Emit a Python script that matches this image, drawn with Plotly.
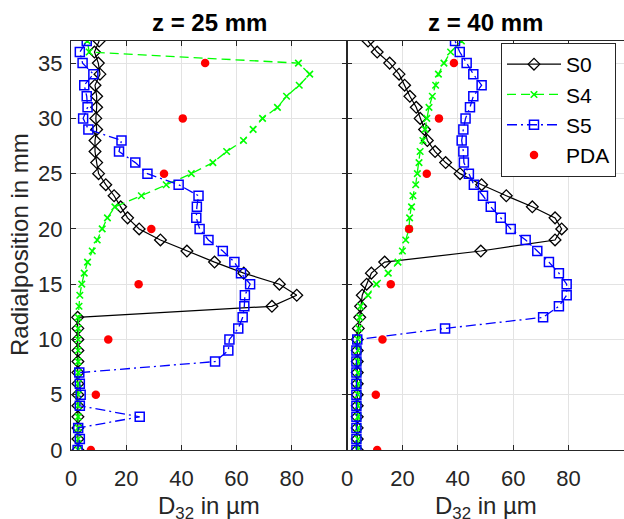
import plotly.graph_objects as go

# Radial positions (mm)
radial_pos = [0, 1, 2, 3, 4, 5, 6, 7, 8, 9, 10, 11, 12, 13, 14, 15, 16, 17, 18, 19,
              20, 21, 22, 23, 24, 25, 26, 27, 28, 29, 30, 31, 32, 33, 34, 35, 36, 37]
pda_pos = [0, 5, 10, 15, 20, 25, 30, 35]

# z = 25 mm
z25_S0 = [2.5, 2.5, 2.5, 2.5, 2.5, 2.5, 2.5, 2.5, 2.5, 2.5, 2.5, 2.5, 2.4, 72.8, 81.8, 75.5,
          62.6, 52.0, 42.0, 32.4, 24.7, 20.5, 18.0, 15.6, 12.6, 10.0, 9.3, 8.7, 8.7, 9.3,
          9.0, 9.3, 9.3, 8.7, 10.5, 9.9, 8.5, 10.2]
z25_S4 = [2.6, 2.6, 2.6, 2.6, 2.6, 2.6, 2.6, 2.6, 2.6, 2.6, 2.6, 2.6, 2.6, 2.9, 3.2, 3.9,
          4.8, 6.0, 7.7, 9.5, 11.3, 13.2, 15.9, 25.5, 34.5, 43.6, 51.4, 56.4, 62.5, 66.0,
          69.4, 74.8, 78.1, 82.7, 86.5, 82.4, 6.6, 5.9]
z25_S5 = [2.4, 3.2, 2.6, 24.9, 3.2, 3.5, 3.2, 3.0, 52.2, 57.0, 57.4, 60.6, 62.2, 62.8, 63.0,
          64.9, 61.6, 59.2, 55.0, 49.8, 46.6, 45.4, 45.6, 46.2, 39.0, 27.7, 23.3, 17.4,
          18.3, 6.3, 4.4, 6.0, 5.7, 4.8, 8.1, 4.2, 3.2, 5.7]
z25_PDA = [7.2, 9.0, 13.5, 24.5, 29.1, 33.7, 40.5, 48.6]

# z = 40 mm
z40_S0 = [3.7, 3.7, 3.7, 3.7, 3.7, 3.7, 3.7, 3.7, 3.7, 3.7, 3.7, 4.1, 4.6, 4.9, 5.5, 7.1,
          8.8, 13.6, 48.3, 75.1, 77.5, 75.1, 66.9, 57.5, 48.6, 40.8, 35.6, 31.8, 29.0,
          28.0, 26.4, 25.0, 22.7, 20.8, 18.8, 15.4, 10.9, 7.6]
z40_S4 = [4.0, 4.0, 4.0, 4.0, 4.0, 4.0, 4.0, 4.0, 4.0, 4.0, 4.0, 4.3, 4.6, 4.9, 7.6, 10.6,
          14.9, 18.4, 20.0, 21.2, 22.4, 22.6, 23.3, 23.8, 24.8, 25.4, 26.0, 26.4, 27.4,
          28.2, 28.8, 29.6, 30.8, 32.0, 33.0, 35.0, 37.4, 41.3]
z40_S5 = [3.4, 3.4, 3.4, 3.4, 3.4, 3.4, 3.4, 3.4, 3.4, 3.4, 3.7, 35.4, 70.8, 76.5, 79.3,
          79.3, 76.5, 72.9, 68.7, 64.5, 59.1, 55.5, 51.9, 49.1, 45.8, 44.0, 42.2, 42.0,
          41.4, 42.0, 42.8, 44.4, 45.6, 48.6, 45.6, 43.2, 40.7, 39.0]
z40_PDA = [10.9, 10.4, 12.8, 15.8, 22.4, 28.8, 33.2, 38.6]

titles = ["z = 25 mm", "z = 40 mm"]
x_ticks = [0, 20, 40, 60, 80]
y_ticks = [0, 5, 10, 15, 20, 25, 30, 35]

FONT = "Liberation Sans, Arial, Helvetica, sans-serif"
AX = "#262626"
GRID = "#e3e3e3"

fig = go.Figure()

panels = [
    ("x", "y", z25_S0, z25_S4, z25_S5, z25_PDA, True),
    ("x2", "y2", z40_S0, z40_S4, z40_S5, z40_PDA, False),
]
for xa, ya, s0, s4, s5, pda, show in panels:
    fig.add_trace(go.Scatter(
        x=s0, y=radial_pos, xaxis=xa, yaxis=ya, name="S0", mode="lines+markers",
        line=dict(color="black", width=1.2),
        marker=dict(symbol="diamond-open", size=9, color="black", line=dict(width=1.3)),
        showlegend=show, legendrank=1))
    fig.add_trace(go.Scatter(
        x=s4, y=radial_pos, xaxis=xa, yaxis=ya, name="S4", mode="lines+markers",
        line=dict(color="#00ff00", width=1.3, dash="9px,5px"),
        marker=dict(symbol="x-thin-open", size=6.5, color="#00ff00", line=dict(width=1.6, color="#00ff00")),
        showlegend=show, legendrank=2))
    fig.add_trace(go.Scatter(
        x=s5, y=radial_pos, xaxis=xa, yaxis=ya, name="S5", mode="lines+markers",
        line=dict(color="#0000ff", width=1.3, dash="10px,4px,2px,4px"),
        marker=dict(symbol="square-open", size=9, color="#0000ff", line=dict(width=1.5)),
        showlegend=show, legendrank=3))
    fig.add_trace(go.Scatter(
        x=pda, y=pda_pos, xaxis=xa, yaxis=ya, name="PDA", mode="markers",
        marker=dict(symbol="circle", size=8.5, color="#ff0000"),
        showlegend=show, legendrank=4))

W, H = 624, 519
ML, MR, MT, MB = 71, 0, 41, 69
plot_w = W - ML - MR
plot_h = H - MT - MB
split = 276 / plot_w


def px_x(px):
    return (px - ML) / plot_w


def px_y(py):
    return (H - MB - py) / plot_h


axis_common = dict(
    showline=True, linecolor=AX, linewidth=1, ticks="inside", ticklen=5,
    tickcolor=AX, tickwidth=1, showgrid=True, gridcolor=GRID, gridwidth=1,
    zeroline=False, tickfont=dict(family=FONT, size=22, color=AX),
)

fig.update_layout(
    width=W, height=H,
    margin=dict(l=ML, r=MR, t=MT, b=MB),
    paper_bgcolor="white", plot_bgcolor="white",
    font=dict(family=FONT, color=AX),
    xaxis=dict(domain=[0, split], range=[0, 100], tickvals=x_ticks, mirror="ticks",
               anchor="y", ticklabelstandoff=9, **axis_common),
    xaxis2=dict(domain=[split, 1], range=[0, 100], tickvals=x_ticks, mirror="ticks",
                anchor="y2", ticklabelstandoff=9, **axis_common),
    yaxis=dict(domain=[0, 1], range=[0, 37], tickvals=y_ticks, mirror="ticks",
               anchor="x", ticklabelstandoff=3, **axis_common),
    yaxis2=dict(domain=[0, 1], range=[0, 37], tickvals=y_ticks, mirror=False,
                anchor="x2", showticklabels=False,
                **{k: v for k, v in axis_common.items() if k != "tickfont"}),
    legend=dict(x=px_x(501), y=px_y(43), xanchor="left", yanchor="top",
                bgcolor="white", bordercolor=AX, borderwidth=1,
                font=dict(family=FONT, size=21, color="black"),
                tracegroupgap=0, itemwidth=54),
    showlegend=True,
)

centers = [ML + 276 / 2, ML + 276 + (plot_w - 276) / 2]
for cx, t in zip(centers, titles):
    fig.add_annotation(text=t, xref="paper", yref="paper", x=px_x(cx), y=px_y(22),
                       xanchor="center", yanchor="middle", showarrow=False,
                       font=dict(family=FONT, size=24, color="black", weight="bold"))
    fig.add_annotation(text="D<sub>32</sub> in µm", xref="paper", yref="paper",
                       x=px_x(cx), y=px_y(490), xanchor="center", yanchor="top",
                       showarrow=False, font=dict(family=FONT, size=24, color=AX))

fig.add_annotation(text="Radialposition in mm", xref="paper", yref="paper",
                   x=px_x(19), y=px_y(245), xanchor="center", yanchor="middle",
                   textangle=-90, showarrow=False,
                   font=dict(family=FONT, size=24, color=AX))

fig.write_html("out.html")
